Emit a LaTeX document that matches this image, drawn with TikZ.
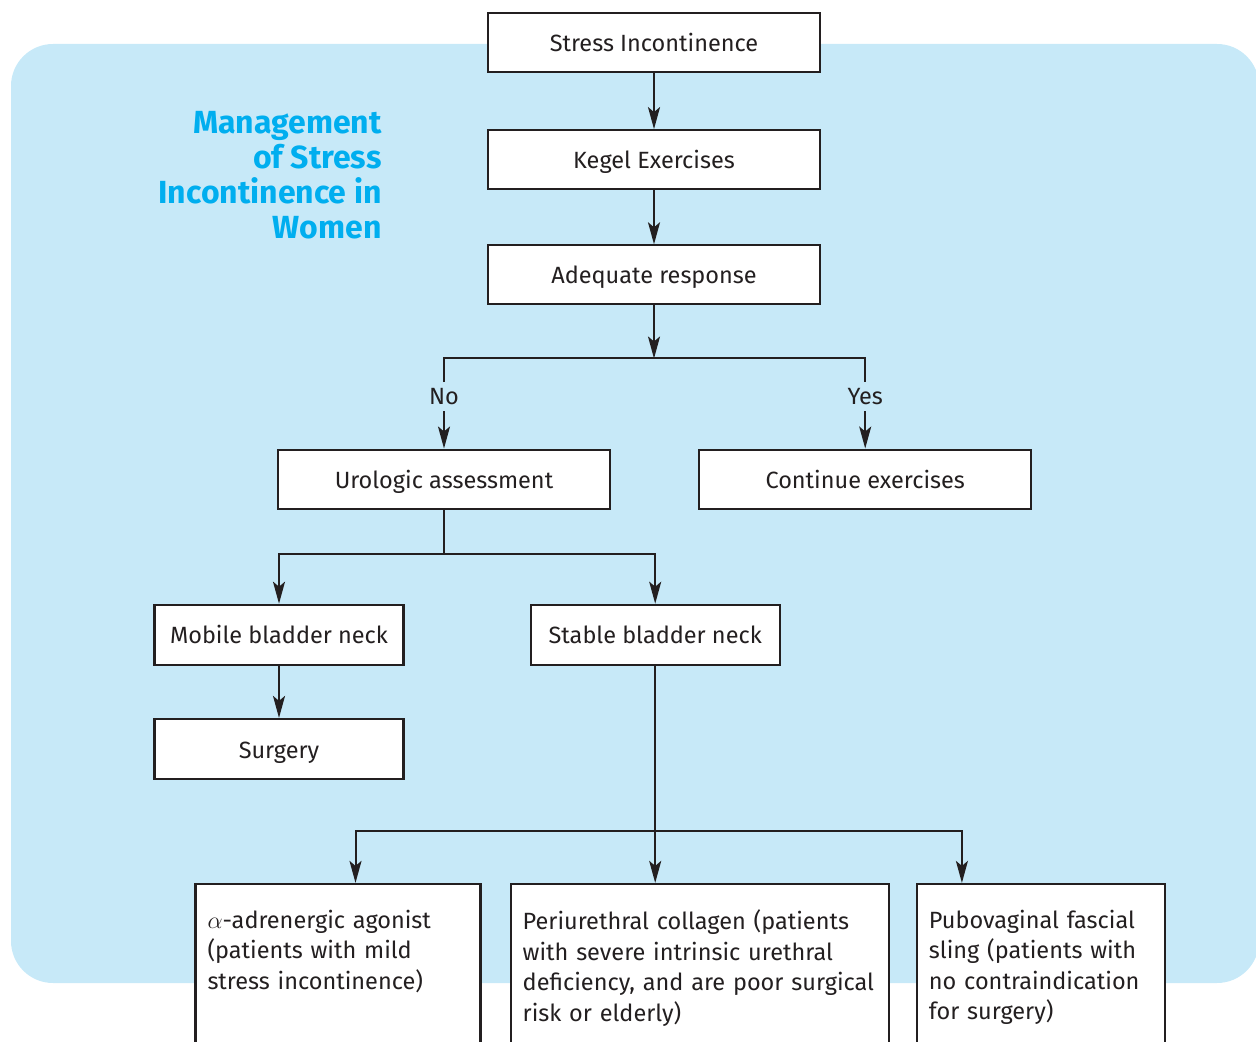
\documentclass[tikz,border=0pt]{standalone}
\usepackage{fontspec}
\setmainfont{Fira Sans}
\usetikzlibrary{arrows.meta, positioning, calc}
\definecolor{panelblue}{HTML}{C7E9F8}
\definecolor{titlecyan}{HTML}{00AEEF}
\definecolor{inkgray}{HTML}{231F20}
\hyphenpenalty=10000
\exhyphenpenalty=10000

\begin{document}
\begin{tikzpicture}[
            x=0.5pt, y=-0.5pt,
            box/.style={draw=inkgray, fill=white, rectangle, minimum width=166pt, minimum height=29.5pt, align=center, font=\fontsize{11.75pt}{15.25pt}\selectfont, text=inkgray, text height=9pt, text depth=0pt, line width=1.1pt},
            smallbox/.style={box, minimum width=124.5pt, minimum height=30pt},
            textbox/.style={draw=inkgray, fill=white, rectangle, align=left, font=\fontsize{11.75pt}{15.25pt}\selectfont, text=inkgray, line width=1.1pt, inner xsep=6pt, inner ysep=13pt, text depth=80pt},
            lbl/.style={font=\fontsize{11.75pt}{15.25pt}\selectfont, text=inkgray, inner sep=3pt},
            title/.style={font=\bfseries\fontsize{16pt}{17.5pt}\selectfont, text=titlecyan, align=right, inner sep=0pt},
            line/.style={draw=inkgray, line width=1pt},
            arrow/.style={line, -{Stealth[length=11pt, width=6pt, inset=2.5pt]}}
        ]

    \useasboundingbox (0,0) rectangle (1256,1042);
    \fill[panelblue, rounded corners=21pt] (11,44) rectangle (1259,983);

    \node[title, anchor=north east] (title) at (382,111) {Management\\of Stress\\Incontinence in\\Women};

    \node[box] (stress) at (654,42.5) {Stress Incontinence};
    \node[box, below=28pt of stress] (kegel) {Kegel Exercises};
    \node[box, below=27pt of kegel] (adequate) {Adequate response};
    \coordinate[below=26.5pt of adequate] (split1);

    \node[box, below=71.5pt of adequate, xshift=-105pt] (urologic) {Urologic assessment};
    \node[box, right=43.5pt of urologic] (continue) {Continue exercises};
    \node[lbl, above=18.5pt of urologic] (no) {No};
    \node[lbl, above=18.5pt of continue] (yes) {Yes};
    \coordinate[below=22pt of urologic] (split2);

    \node[smallbox, below=47pt of urologic, xshift=-82.5pt] (mobile) {Mobile bladder neck};
    \node[smallbox, right=62.5pt of mobile] (stable) {Stable bladder neck};
    \node[smallbox, below=26pt of mobile] (surgery) {Surgery};
    \coordinate[below=82.5pt of stable] (split3);

    \node[textbox, text width=177pt, below=108.5pt of stable, xshift=22.25pt] (collagen) {Periurethral collagen (patients\\with severe intrinsic urethral\\deficiency, and are poor surgical\\risk or elderly)};
    \node[textbox, text width=130.5pt, left=14pt of collagen.north west, anchor=north east] (agonist) {$\alpha$-adrenergic agonist\\(patients with mild\\stress incontinence)};
    \node[textbox, text width=112pt, right=13pt of collagen.north east, anchor=north west] (sling) {Pubovaginal fascial\\sling (patients with\\no contraindication\\for surgery)};

    % top chain
    \draw[arrow] (stress) -- (kegel);
    \draw[arrow] (kegel) -- (adequate);
    \draw[arrow] (adequate) -- (split1);

    % yes / no
    \draw[line] (no) |- (split1) -| (yes);
    \draw[arrow] (no) -- (urologic);
    \draw[arrow] (yes) -- (continue);

    % assessment
    \draw[line] (urologic) -- (split2);
    \draw[arrow] (split2) -| (mobile);
    \draw[arrow] (split2) -| (stable);
    \draw[arrow] (mobile) -- (surgery);

    % treatment options
    \draw[arrow] (stable) -- (stable |- collagen.north);
    \draw[arrow] (split3) -| ([xshift=8.75pt]agonist.north);
    \draw[arrow] (split3) -| ([xshift=-39.5pt]sling.north);

\end{tikzpicture}
\end{document}
